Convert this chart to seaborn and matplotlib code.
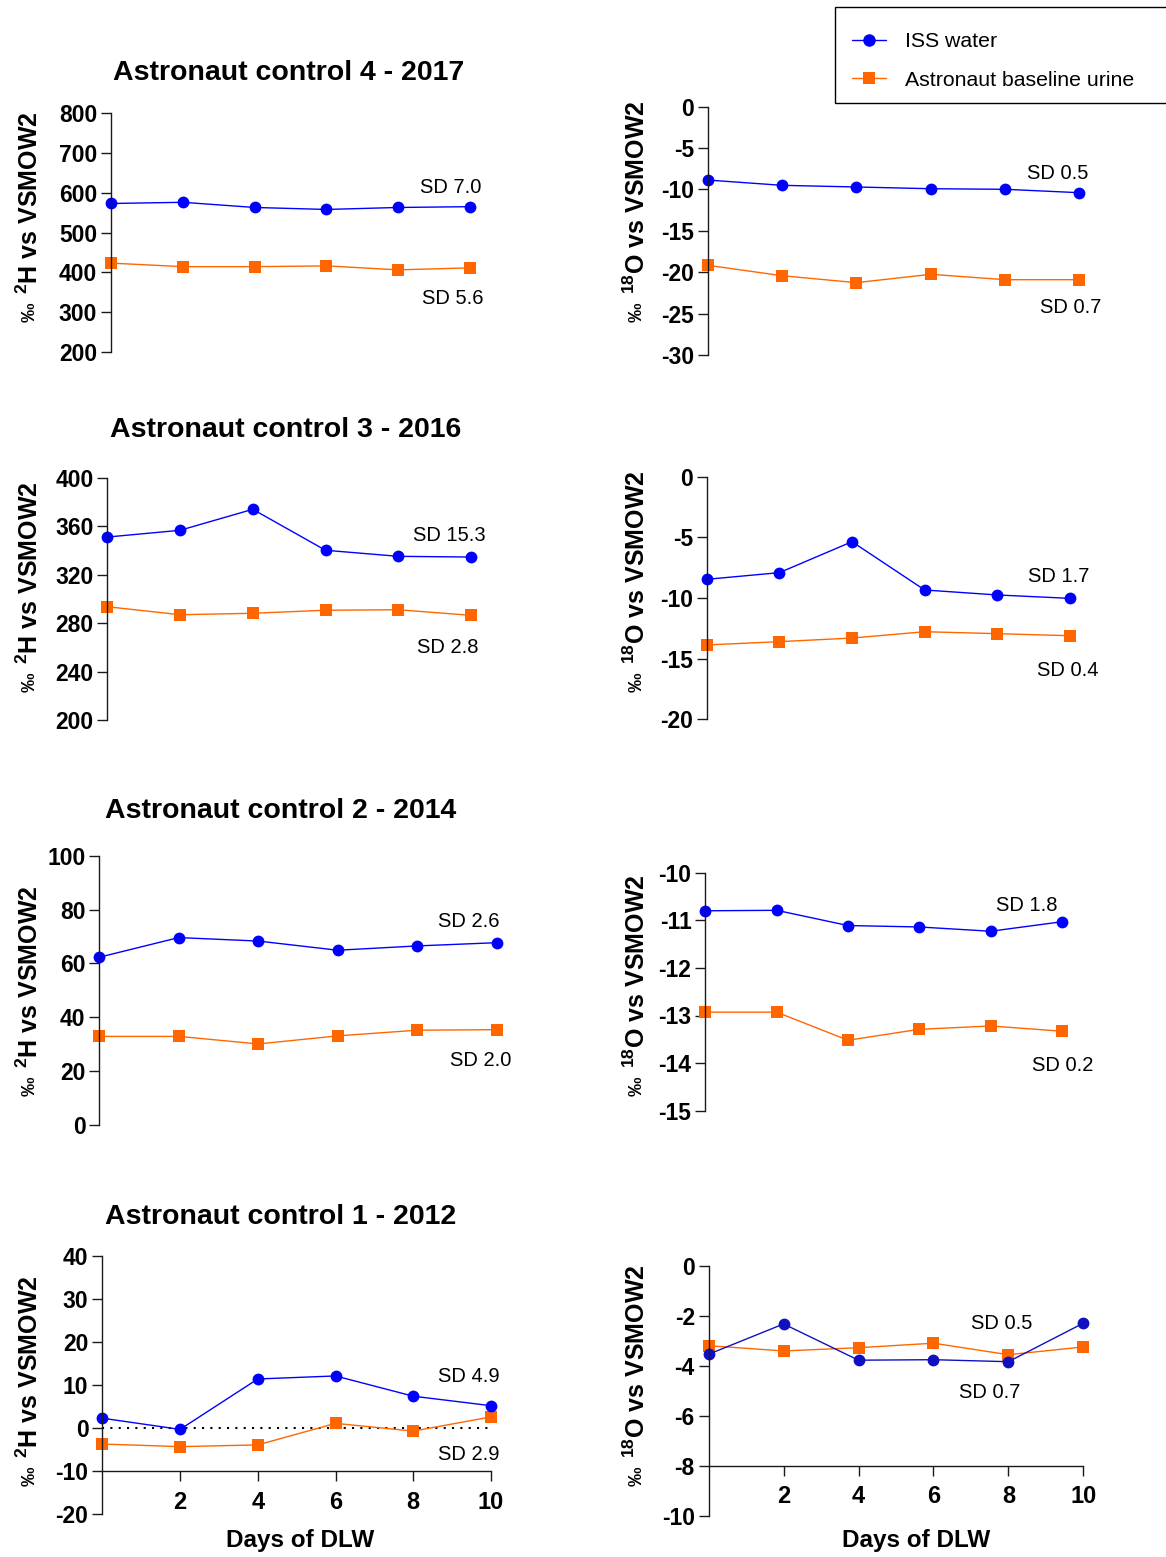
import pandas as pd
import seaborn as sns
import matplotlib.pyplot as plt
from matplotlib.lines import Line2D
from matplotlib.patches import Rectangle

# --- DATA ---
DAYS = [0, 2, 4, 6, 8, 10]
SERIES = ["ISS water", "Astronaut baseline urine"]
TITLES = ["Astronaut control 4 - 2017", "Astronaut control 3 - 2016",
          "Astronaut control 2 - 2014", "Astronaut control 1 - 2012"]

# deuterium, rows top to bottom
H2_ISS = [
    [573, 576, 563, 558, 563, 565],
    [351.0, 356.6, 373.9, 340.1, 335.1, 334.5],
    [62.3, 69.6, 68.3, 64.9, 66.5, 67.7],
    [2.3, -0.3, 11.4, 12.1, 7.4, 5.2],
]
H2_URINE = [
    [423, 414, 414, 416, 406, 411],
    [293.5, 286.9, 288.1, 290.6, 291.0, 286.4],
    [32.9, 32.9, 30.1, 33.1, 35.2, 35.4],
    [-3.7, -4.3, -3.9, 1.1, -0.7, 2.6],
]
# oxygen-18, rows top to bottom
O18_ISS = [
    [-8.86, -9.50, -9.70, -9.91, -9.98, -10.39],
    [-8.46, -7.91, -5.36, -9.34, -9.75, -10.03],
    [-10.80, -10.79, -11.11, -11.14, -11.23, -11.03],
    [-3.54, -2.33, -3.78, -3.76, -3.84, -2.30],
]
O18_URINE = [
    [-19.16, -20.42, -21.26, -20.25, -20.90, -20.90],
    [-13.87, -13.60, -13.30, -12.78, -12.94, -13.11],
    [-12.93, -12.93, -13.52, -13.29, -13.22, -13.33],
    [-3.20, -3.41, -3.28, -3.10, -3.56, -3.25],
]
H2_SD = [("SD 7.0", "SD 5.6"), ("SD 15.3", "SD 2.8"), ("SD 2.6", "SD 2.0"), ("SD 4.9", "SD 2.9")]
O18_SD = [("SD 0.5", "SD 0.7"), ("SD 1.7", "SD 0.4"), ("SD 1.8", "SD 0.2"), ("SD 0.5", "SD 0.7")]

H2_YTICKS = [list(range(200, 801, 100)), list(range(200, 401, 40)),
             list(range(0, 101, 20)), list(range(-20, 41, 10))]
O18_YTICKS = [list(range(-30, 1, 5)), list(range(-20, 1, 5)),
              list(range(-15, -9, 1)), list(range(-10, 1, 2))]
XTICKS = [2, 4, 6, 8, 10]

# --- LAYOUT (pixels: left, top, right, bottom) ---
W, H = 1166, 1557
LEFT_BOX = [(111, 113.3, 470, 351.7), (107.3, 477.7, 471, 720),
            (99.3, 855.7, 496.7, 1125), (102.3, 1255.7, 491, 1514.3)]
RIGHT_BOX = [(707.7, 106.7, 1079.3, 355), (706.7, 476.7, 1070, 719.3),
             (705.3, 872.7, 1062, 1110.7), (708.7, 1265.7, 1083.3, 1515.7)]
TITLE_POS = [(289, 73), (286, 430), (281, 811), (281, 1217)]
LABEL_Y = [221, 591, 995, 1385]
# SD label positions in data coords (upper, lower)
H2_SD_POS = [((9.47, 612), (9.53, 333)), ((9.40, 352), (9.37, 260)),
             ((9.30, 75.4), (9.60, 23.8)), ((9.43, 11.9), (9.43, -6.2))]
O18_SD_POS = [((9.43, -8.13), (9.78, -24.3)), ((9.70, -8.19), (9.95, -16.0)),
              ((9.02, -10.68), (10.03, -14.04)), ((7.83, -2.33), (7.51, -5.09))]

BLUE = "#0000ff"
ORANGE = "#ff6600"
INK = "#1a1a1a"

sns.set_theme(style="white")
plt.rcParams["font.family"] = ["Liberation Sans", "DejaVu Sans"]
plt.rcParams["mathtext.fontset"] = "custom"
plt.rcParams["mathtext.rm"] = "Liberation Sans:bold"
plt.rcParams["mathtext.bf"] = "Liberation Sans:bold"
plt.rcParams["axes.linewidth"] = 1.0
plt.rcParams["text.color"] = "black"
plt.rcParams["xtick.color"] = "black"
plt.rcParams["ytick.color"] = "black"


def make_axes(fig, box):
    l, t, r, b = box
    return fig.add_axes([l / W, 1 - b / H, (r - l) / W, (b - t) / H])


def draw_panel(ax, iss, urine, yticks, sd_text, sd_pos, blue, bottom_at=None):
    df = pd.DataFrame({
        "day": DAYS * 2,
        "value": urine + iss,
        "series": [SERIES[1]] * len(DAYS) + [SERIES[0]] * len(DAYS),
    })
    sns.lineplot(data=df, x="day", y="value", hue="series", style="series",
                 hue_order=[SERIES[1], SERIES[0]], style_order=[SERIES[1], SERIES[0]],
                 palette={SERIES[0]: blue, SERIES[1]: ORANGE},
                 markers={SERIES[0]: "o", SERIES[1]: "s"}, dashes=False,
                 markersize=8.5, markeredgewidth=0, linewidth=1.0,
                 legend=False, clip_on=False, ax=ax)
    ax.set_xlim(0, 10)
    ax.set_ylim(yticks[0], yticks[-1])
    ax.set_yticks(yticks)
    ax.set_yticklabels([str(v) for v in yticks], fontweight="bold", fontsize=16.5)
    ax.set_xlabel("")
    ax.set_ylabel("")
    ax.set_facecolor("none")
    for s in ["top", "right"]:
        ax.spines[s].set_visible(False)
    ax.spines["left"].set_color(INK)
    ax.tick_params(axis="y", direction="out", length=7, width=1.0, color=INK,
                   pad=3, left=True, labelcolor="black")
    if bottom_at is None:
        ax.spines["bottom"].set_visible(False)
        ax.tick_params(axis="x", bottom=False, labelbottom=False)
    else:
        ax.spines["bottom"].set_position(("data", bottom_at))
        ax.spines["bottom"].set_color(INK)
        ax.set_xticks(XTICKS)
        ax.set_xticklabels([str(v) for v in XTICKS], fontweight="bold", fontsize=17)
        ax.tick_params(axis="x", direction="out", length=7, width=1.0, color=INK,
                       pad=7, bottom=True, labelcolor="black")
    for txt, (x, y) in zip(sd_text, sd_pos):
        ax.text(x, y, txt, ha="center", va="center", fontsize=14.5, color="black")


def draw_ylabel(fig, x_base, y_start, iso):
    # main part reads upward from y_start, permil sign sits below it, a bit smaller
    fig.text(x_base / W, 1 - y_start / H, "$^{%s}$%s vs VSMOW2" % iso,
             rotation=90, rotation_mode="anchor", ha="left", va="baseline",
             fontsize=18, fontweight="bold")
    fig.text((x_base - 3) / W, 1 - (y_start + 9) / H, "‰",
             rotation=90, rotation_mode="anchor", ha="right", va="baseline",
             fontsize=14, fontweight="bold")


fig = plt.figure(figsize=(W / 100, H / 100), dpi=100)

for i in range(4):
    last = i == 3
    axl = make_axes(fig, LEFT_BOX[i])
    draw_panel(axl, H2_ISS[i], H2_URINE[i], H2_YTICKS[i], H2_SD[i], H2_SD_POS[i],
               BLUE, bottom_at=-10 if last else None)
    if last:
        axl.plot([0, 10], [0, 0], color="black", linestyle=(0, (1, 3)),
                 linewidth=1.5, zorder=0)
    axr = make_axes(fig, RIGHT_BOX[i])
    draw_panel(axr, O18_ISS[i], O18_URINE[i], O18_YTICKS[i], O18_SD[i], O18_SD_POS[i],
               "#1010c0" if last else BLUE, bottom_at=-8 if last else None)

    tx, ty = TITLE_POS[i]
    fig.text(tx / W, 1 - ty / H, TITLES[i], ha="center", va="center",
             fontsize=20.5, fontweight="bold")
    draw_ylabel(fig, 38, LABEL_Y[i] + 73, ("2", "H"))
    draw_ylabel(fig, 645, LABEL_Y[i] + 73, ("18", "O"))

fig.text(300 / W, 1 - 1540 / H, "Days of DLW", ha="center", va="center",
         fontsize=17.5, fontweight="bold")
fig.text(916 / W, 1 - 1540 / H, "Days of DLW", ha="center", va="center",
         fontsize=17.5, fontweight="bold")

# legend box runs off the right edge of the figure, as in the original
fig.patches.append(Rectangle((835 / W, 1 - 103 / H), 345 / W, 96 / H,
                             transform=fig.transFigure, fill=False,
                             edgecolor="black", linewidth=1.0))
handles = [
    Line2D([], [], color=BLUE, marker="o", markersize=9, markeredgewidth=0, linewidth=1.0),
    Line2D([], [], color=ORANGE, marker="s", markersize=9, markeredgewidth=0, linewidth=1.0),
]
fig.legend(handles, SERIES, loc="upper left", bbox_to_anchor=(852 / W, 1 - 32 / H),
           fontsize=15.3, frameon=False, handlelength=1.6, handletextpad=0.9,
           borderpad=0, labelspacing=0.92, borderaxespad=0)

fig.savefig("out.png", dpi=100)
